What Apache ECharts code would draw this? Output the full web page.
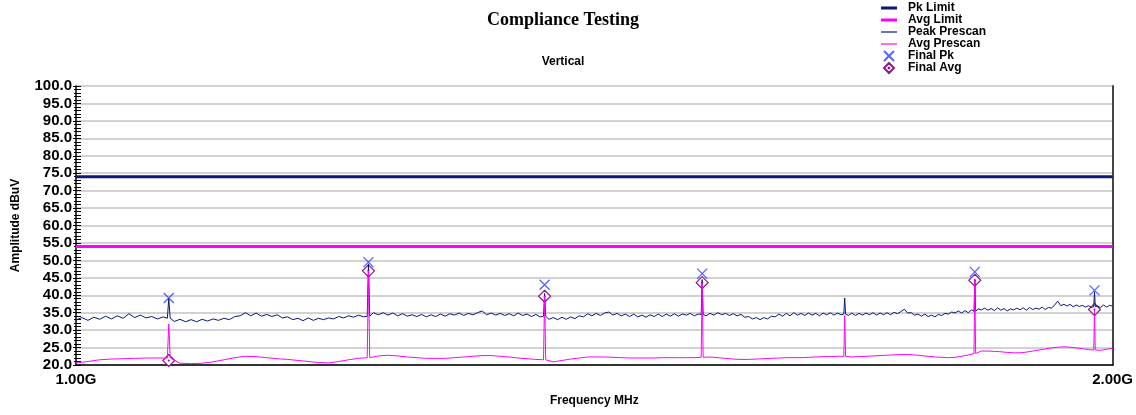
<!DOCTYPE html>
<html>
<head>
<meta charset="utf-8">
<title>Compliance Testing</title>
<script src="https://cdn.jsdelivr.net/npm/echarts@6/dist/echarts.min.js"></script>
<style>
html, body { margin: 0; padding: 0; background: #fff; }
#chart { width: 1136px; height: 415px; }
</style>
</head>
<body>
<div id="chart"></div>
<script>
var myChart = echarts.init(document.getElementById('chart'));

// peak prescan sweep, 1000..2000 MHz every 4 MHz (dBuV)
var pkStart = 1000, pkStep = 4;
var peakPrescan = [
    32.9, 33.6, 32.8, 33.7, 33.1, 34.0, 33.2, 34.1, 33.4, 34.7,
    33.6, 34.3, 33.5, 33.9, 33.2, 33.8, 33.4, 32.5, 33.1, 32.4,
    33.0, 32.4, 33.1, 32.6, 33.2, 32.8, 33.4, 33.0, 33.9, 34.1,
    35.0, 34.1, 34.9, 34.0, 34.5, 33.9, 34.4, 33.5, 33.8, 33.0,
    33.4, 32.7, 33.5, 32.8, 33.4, 33.0, 33.5, 33.2, 33.9, 33.5,
    34.1, 33.7, 34.3, 33.8, 34.0, 35.0, 34.4, 35.0, 34.3, 34.9,
    34.1, 34.7, 34.0, 34.4, 33.9, 34.5, 33.8, 34.4, 33.9, 34.6,
    34.0, 34.7, 34.3, 34.9, 34.2, 34.8, 34.4, 35.0, 35.5, 34.4,
    34.9, 34.3, 34.8, 34.2, 34.7, 34.1, 34.9, 34.2, 34.6, 33.9,
    34.5, 33.8, 34.0, 33.1, 33.6, 33.0, 33.7, 33.1, 33.8, 33.3,
    34.1, 33.8, 34.7, 34.1, 34.8, 34.2, 34.9, 35.2, 34.3, 34.8,
    34.1, 34.6, 33.9, 34.6, 33.8, 34.3, 33.7, 34.4, 33.9, 34.6,
    33.9, 34.6, 34.0, 34.7, 34.0, 34.6, 34.3, 34.8, 34.1, 34.6,
    34.5, 34.1, 34.8, 34.3, 35.0, 34.4, 34.8, 34.2, 34.7, 34.1,
    34.5, 33.7, 33.9, 33.2, 33.6, 33.0, 33.6, 33.2, 34.0, 33.8,
    34.6, 34.0, 34.8, 34.1, 35.0, 34.3, 34.8, 34.2, 34.9, 34.3,
    34.8, 34.1, 34.9, 34.4, 35.0, 34.3, 34.9, 34.4, 34.6, 34.2,
    34.9, 34.2, 34.8, 34.3, 34.9, 34.4, 35.0, 34.3, 34.9, 34.4,
    35.0, 34.4, 35.1, 34.7, 35.3, 36.0, 34.9, 35.0, 34.3, 34.6,
    34.0, 34.6, 33.9, 34.3, 33.8, 34.5, 34.2, 34.8, 34.6, 35.2,
    34.9, 35.5, 34.9, 35.6, 35.0, 35.8, 35.4, 36.1, 35.8, 36.3,
    35.7, 36.2, 35.6, 36.4, 35.7, 36.2, 35.5, 36.1, 35.8, 36.3,
    35.8, 36.4, 35.7, 36.5, 35.9, 36.3, 36.0, 36.6, 35.9, 36.5,
    36.3, 37.2, 38.3, 37.0, 37.4, 36.9, 37.4, 36.7, 37.2, 36.8,
    37.1, 36.6, 37.0, 36.5, 36.7, 36.9, 36.5, 37.2, 36.6, 37.1,
    36.9
];

// average prescan sweep, 1000..2000 MHz every 8 MHz (dBuV)
var avgStart = 1000, avgStep = 8;
var avgPrescan = [
    20.6, 21.0, 21.5, 21.7, 21.8, 21.9, 22.0, 22.0, 22.0, 20.5,
    20.4, 20.5, 20.9, 21.5, 22.1, 22.5, 22.4, 22.1, 21.8, 21.6,
    21.3, 21.0, 20.7, 20.6, 21.0, 21.5, 21.9, 22.1, 22.6, 22.8,
    22.6, 22.3, 22.1, 21.9, 21.9, 21.9, 22.1, 22.3, 22.5, 22.7,
    22.7, 22.5, 22.3, 22.0, 21.8, 21.6, 21.5, 20.9, 21.3, 21.7,
    22.0, 22.3, 22.3, 22.3, 22.2, 22.1, 22.0, 22.0, 22.0, 22.0,
    22.1, 22.1, 22.1, 22.1, 22.1, 22.2, 22.3, 22.1, 21.9, 21.7,
    21.6, 21.6, 21.7, 21.8, 21.9, 22.0, 22.1, 22.1, 22.1, 22.2,
    22.3, 22.4, 22.4, 22.5, 22.5, 22.3, 22.4, 22.5, 22.6, 22.7,
    22.8, 22.9, 23.0, 23.0, 22.9, 22.7, 22.5, 22.3, 22.2, 22.1,
    22.2, 22.5, 22.9, 23.3, 24.0, 24.0, 23.9, 23.8, 23.6, 23.5,
    23.5, 23.7, 24.0, 24.3, 24.6, 24.9, 25.1, 25.2, 25.1, 24.9,
    24.7, 24.4, 24.3, 24.2, 24.5, 24.8
];

// narrow emissions seen in the prescans
var spikeFreq = [1064, 1216, 1368, 1520, 1672, 1824, 1976];
var spikePk   = [39.0, 49.0, 40.5, 44.5, 39.2, 44.5, 41.0];
var spikeAvg  = [31.8, 47.0, 39.7, 43.6, 34.2, 44.3, 35.9];

// final measurements
var finalFreq = [1064, 1216, 1368, 1520, 1824, 1976];
var finalPk   = [39.2, 49.5, 43.0, 46.2, 46.7, 41.4];
var finalAvg  = [21.3, 47.0, 39.7, 43.6, 44.3, 35.9];

var pkLimit = 74;
var avgLimit = 54;
var freqMin = 1000, freqMax = 2000;
var ampMin = 20, ampMax = 100, ampStep = 5;

var navy = '#0c1778';
var magenta = '#ff00ff';

function buildTrace(start, step, vals, tops) {
    var out = [];
    for (var i = 0; i < vals.length; i++) {
        var f = start + i * step;
        var k = spikeFreq.indexOf(f);
        if (k >= 0) {
            out.push([f - 1, vals[i]], [f, tops[k]], [f + 1, vals[i]]);
        } else {
            out.push([f, vals[i]]);
        }
    }
    return out;
}

function pairs(xs, ys) {
    return xs.map(function (x, i) { return [x, ys[i]]; });
}

var xPath = 'path://M0,0L10,10M10,0L0,10';
var diamondPath = 'path://M0,-6L6,0L0,6L-6,0Z M0,-0.4L0.4,0L0,0.4L-0.4,0Z';
var thickBar = 'path://M0,0H16V3H0Z';
var thinBar = 'path://M0,0H16V1.2H0Z';

option = {
    backgroundColor: '#fff',
    animation: false,
    textStyle: { fontFamily: 'Liberation Sans' },
    title: [{
        text: 'Compliance Testing',
        left: 563,
        top: 11,
        padding: 0,
        textAlign: 'center',
        textStyle: { fontFamily: 'Liberation Serif', fontWeight: 'bold', fontSize: 18, color: '#000' }
    }, {
        text: 'Vertical',
        left: 563,
        top: 56,
        padding: 0,
        textAlign: 'center',
        textStyle: { fontFamily: 'Liberation Sans', fontWeight: 'bold', fontSize: 12, color: '#000' }
    }],
    legend: {
        orient: 'vertical',
        left: 881,
        top: 2,
        padding: 0,
        itemWidth: 16,
        itemHeight: 10,
        itemGap: 0,
        selectedMode: false,
        textStyle: { fontWeight: 'bold', fontSize: 12, color: '#000', lineHeight: 12, padding: [0, 0, 0, 6] },
        data: [
            { name: 'Pk Limit', icon: thickBar },
            { name: 'Avg Limit', icon: thickBar },
            { name: 'Peak Prescan', icon: thinBar },
            { name: 'Avg Prescan', icon: thinBar },
            { name: 'Final Pk' },
            { name: 'Final Avg' }
        ]
    },
    grid: { left: 76, right: 23, top: 86, bottom: 50 },
    xAxis: {
        type: 'log',
        logBase: 2,
        min: freqMin,
        max: freqMax,
        name: 'Frequency MHz',
        nameLocation: 'middle',
        nameGap: 30,
        nameTextStyle: { fontWeight: 'bold', fontSize: 12, color: '#000' },
        axisLine: { show: true, lineStyle: { color: '#000', width: 1.5 } },
        axisTick: { show: false },
        minorTick: { show: false },
        splitLine: { show: false },
        axisLabel: {
            show: true,
            margin: 7,
            showMinLabel: true,
            showMaxLabel: true,
            fontWeight: 'bold',
            fontSize: 15,
            color: '#000',
            formatter: function (v) {
                if (Math.abs(v - freqMin) < 0.5) return (freqMin / 1000).toFixed(2) + 'G';
                if (Math.abs(v - freqMax) < 0.5) return (freqMax / 1000).toFixed(2) + 'G';
                return '';
            }
        }
    },
    yAxis: [{
        type: 'value',
        min: ampMin,
        max: ampMax,
        interval: ampStep,
        position: 'left',
        name: 'Amplitude dBuV',
        nameLocation: 'middle',
        nameGap: 54,
        nameTextStyle: { fontWeight: 'bold', fontSize: 12, color: '#000' },
        axisLine: { show: true, lineStyle: { color: '#000', width: 1.5 } },
        axisTick: { show: true, inside: true, length: 5, lineStyle: { color: '#000' } },
        minorTick: { show: true, splitNumber: 5, length: 5, lineStyle: { color: '#000' } },
        axisLabel: {
            margin: 4,
            fontWeight: 'bold',
            fontSize: 15,
            color: '#000',
            formatter: function (v) { return v.toFixed(1); }
        },
        splitLine: { show: true, lineStyle: { color: '#d2d2d2', width: 2 } }
    }, {
        type: 'value',
        min: ampMin,
        max: ampMax,
        interval: ampStep,
        position: 'left',
        axisLine: { show: false },
        axisTick: { show: true, inside: false, length: 3, lineStyle: { color: '#000' } },
        minorTick: { show: true, splitNumber: 5, length: 2, lineStyle: { color: '#000' } },
        axisLabel: { show: false },
        splitLine: { show: false }
    }, {
        type: 'value',
        min: ampMin,
        max: ampMax,
        interval: ampStep,
        position: 'right',
        axisLine: { show: true, lineStyle: { color: '#444', width: 2 } },
        axisTick: { show: false },
        axisLabel: { show: false },
        splitLine: { show: false }
    }],
    series: [{
        name: 'Pk Limit',
        type: 'line',
        symbol: 'none',
        color: navy,
        lineStyle: { color: navy, width: 3 },
        data: [[freqMin, pkLimit], [freqMax, pkLimit]]
    }, {
        name: 'Avg Limit',
        type: 'line',
        symbol: 'none',
        color: magenta,
        lineStyle: { color: magenta, width: 3 },
        data: [[freqMin, avgLimit], [freqMax, avgLimit]]
    }, {
        name: 'Peak Prescan',
        type: 'line',
        symbol: 'none',
        color: navy,
        lineStyle: { color: navy, width: 1 },
        data: buildTrace(pkStart, pkStep, peakPrescan, spikePk)
    }, {
        name: 'Avg Prescan',
        type: 'line',
        symbol: 'none',
        color: magenta,
        lineStyle: { color: magenta, width: 1 },
        data: buildTrace(avgStart, avgStep, avgPrescan, spikeAvg)
    }, {
        name: 'Final Pk',
        type: 'scatter',
        symbol: xPath,
        symbolSize: 10,
        symbolKeepAspect: true,
        itemStyle: { color: 'rgba(0,0,0,0)', borderColor: '#2a3cff', borderWidth: 1.3 },
        data: pairs(finalFreq, finalPk)
    }, {
        name: 'Final Avg',
        type: 'scatter',
        symbol: diamondPath,
        symbolSize: 12,
        symbolKeepAspect: true,
        itemStyle: { color: '#fff', borderColor: '#8b1a8b', borderWidth: 1.2, opacity: 1 },
        data: pairs(finalFreq, finalAvg)
    }]
};

myChart.setOption(option);
</script>
</body>
</html>
